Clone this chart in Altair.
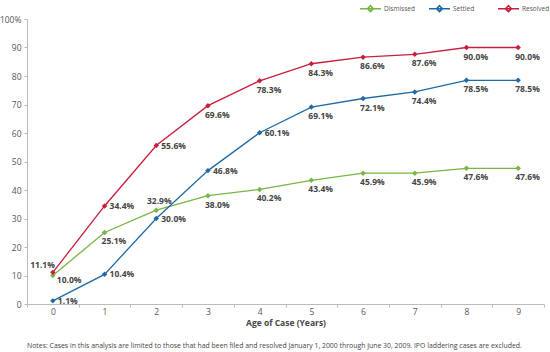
import altair as alt
import pandas as pd

ages = list(range(10))
series = ["Dismissed", "Settled", "Resolved"]
dismissed = [10.0, 25.1, 32.9, 38.0, 40.2, 43.4, 45.9, 45.9, 47.6, 47.6]
settled = [1.1, 10.4, 30.0, 46.8, 60.1, 69.1, 72.1, 74.4, 78.5, 78.5]
resolved = [11.1, 34.4, 55.6, 69.6, 78.3, 84.3, 86.6, 87.6, 90.0, 90.0]
colors = ["#78b543", "#1f6aa5", "#c81d3c"]

# where each value label sits relative to its point
place_dismissed = ["right-low", "below", "above"] + ["below"] * 7
place_settled = ["right"] * 5 + ["below"] * 5
place_resolved = ["above-left", "right", "right"] + ["below"] * 7

notes = ("Notes: Cases in this analysis are limited to those that had been filed and resolved "
         "January 1, 2000 through June 30, 2009. IPO laddering cases are excluded.")

rows = []
for name, vals, places in zip(series, [dismissed, settled, resolved],
                              [place_dismissed, place_settled, place_resolved]):
    for a, v, p in zip(ages, vals, places):
        rows.append({"series": name, "age": a, "value": v,
                     "label": f"{v:.1f}%", "place": p})
df = pd.DataFrame(rows)

FONT = "Open Sans"

xenc = alt.X(
    "age:O",
    scale=alt.Scale(type="band", paddingInner=0, paddingOuter=0),
    axis=alt.Axis(tickBand="extent", labelAngle=0, tickSize=3, grid=False,
                  labelOverlap=False, labelPadding=0, title="Age of Case (Years)"),
)
yenc = alt.Y(
    "value:Q",
    scale=alt.Scale(domain=[0, 100], nice=False),
    axis=alt.Axis(values=list(range(0, 101, 10)), labelOverlap=False,
                  labelExpr="datum.value == 100 ? '100%' : datum.label",
                  tickSize=3, labelPadding=3, grid=False, title=None),
)

base = alt.Chart(df).encode(x=xenc, y=yenc)

legend_path = "M-1,0L1,0M0,-0.28L0.28,0L0,0.28L-0.28,0Z"
lines = base.mark_line(strokeWidth=1.3).encode(
    color=alt.Color(
        "series:N",
        scale=alt.Scale(domain=series, range=colors),
        sort=series,
        legend=alt.Legend(title=None, orient="none", legendX=332, legendY=-22,
                          direction="horizontal", symbolType=legend_path,
                          symbolSize=441, symbolStrokeWidth=1.6,
                          labelFont=FONT, labelFontSize=6.5, labelColor="#555555",
                          labelOffset=2, columnPadding=10, gridAlign="all"),
    ),
)

points = base.mark_point(shape="diamond", filled=True, size=30, opacity=1).encode(
    fill=alt.Fill("series:N", scale=alt.Scale(domain=series, range=colors), legend=None),
)

styles = {
    "right": dict(align="left", dx=5, dy=0),
    "right-low": dict(align="left", dx=4, dy=4),
    "below": dict(align="left", dx=-3, dy=9),
    "above": dict(align="center", dx=3, dy=-9),
    "above-left": dict(align="right", dx=2, dy=-7),
}

label_layers = []
for key, st in styles.items():
    label_layers.append(
        base.transform_filter(alt.datum.place == key)
        .mark_text(font=FONT, fontSize=8.5, fontWeight="bold", color="#444444",
                   baseline="middle", **st)
        .encode(text="label:N")
    )

chart = (
    alt.layer(lines, points, *label_layers)
    .resolve_scale(color="independent", fill="independent")
    .properties(
        width=517,
        height=285,
        autosize=alt.AutoSizeParams(type="none"),
        padding={"left": 27, "top": 19, "right": 6, "bottom": 48},
        title=alt.TitleParams(notes, orient="bottom", anchor="start", frame="group",
                              font=FONT, fontSize=6.9, fontWeight="normal",
                              color="#444444", offset=16),
    )
    .configure_view(stroke=None)
    .configure_axis(
        domainColor="#bbbbbb",
        tickColor="#bbbbbb",
        labelFont=FONT,
        labelFontSize=8.5,
        labelColor="#555555",
        titleFont=FONT,
        titleFontSize=8.5,
        titleFontWeight="bold",
        titleColor="#444444",
        titlePadding=3,
    )
)

chart.save("out.html", embed_options={"renderer": "svg", "actions": False})
